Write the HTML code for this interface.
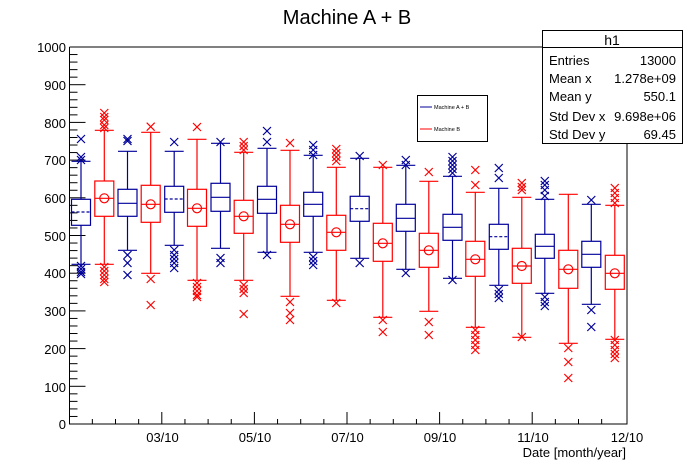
<!DOCTYPE html>
<html><head><meta charset="utf-8"><style>
html,body{margin:0;padding:0;background:#fff;}
svg{display:block;font-family:"Liberation Sans",sans-serif;}
</style></head><body>
<svg id="s" width="696" height="472" viewBox="0 0 696 472" xmlns="http://www.w3.org/2000/svg">
<rect width="696" height="472" fill="#fff"/>
<text x="347" y="24" font-size="20" text-anchor="middle">Machine A + B</text>
<g id="axes" stroke="#000" stroke-width="1" fill="none"></g>
<g id="plot" fill="none" stroke-width="1.2"></g>
<g font-size="13" text-anchor="end" id="ylab">
<text x="66" y="52">1000</text><text x="66" y="90">900</text><text x="66" y="128">800</text><text x="66" y="165">700</text><text x="66" y="203">600</text><text x="66" y="241">500</text><text x="66" y="278">400</text><text x="66" y="316">300</text><text x="66" y="354">200</text><text x="66" y="392">100</text><text x="66" y="429">0</text>
</g>
<g font-size="13" text-anchor="middle">
<text x="162.5" y="442">03/10</text><text x="255" y="442">05/10</text><text x="347.5" y="442">07/10</text><text x="440" y="442">09/10</text><text x="533" y="442">11/10</text><text x="627" y="442">12/10</text>
</g>
<text x="626" y="457" font-size="13" text-anchor="end">Date [month/year]</text>
<rect x="417.5" y="95.5" width="70" height="46" fill="#fff" stroke="#000"/>
<line x1="420" y1="107" x2="432" y2="107" stroke="#00009a"/>
<line x1="420" y1="129" x2="432" y2="129" stroke="#f00"/>
<text x="434" y="109" font-size="5.5">Machine A + B</text>
<text x="434" y="131" font-size="5.5">Machine B</text>
<rect x="542.5" y="30.5" width="140" height="113" fill="#fff" stroke="#000"/>
<line x1="542.5" y1="47.5" x2="682.5" y2="47.5" stroke="#000"/>
<text x="612" y="45" font-size="14" text-anchor="middle">h1</text>
<g font-size="13">
<text x="549" y="65">Entries</text><text x="676" y="65" text-anchor="end">13000</text>
<text x="549" y="83">Mean x</text><text x="676" y="83" text-anchor="end">1.278e+09</text>
<text x="549" y="101">Mean y</text><text x="676" y="101" text-anchor="end">550.1</text>
<text x="549" y="121">Std Dev x</text><text x="676" y="121" text-anchor="end">9.698e+06</text>
<text x="549" y="139">Std Dev y</text><text x="676" y="139" text-anchor="end">69.45</text>
</g>
</svg>
<script>
var NS="http://www.w3.org/2000/svg";
function el(p,t,a){var e=document.createElementNS(NS,t);for(var k in a)e.setAttribute(k,a[k]);p.appendChild(e);return e;}
var ax=document.getElementById("axes"),pl=document.getElementById("plot");
var L=69.5,R=627,T=47,B=424;
el(ax,"path",{d:"M"+L+" "+T+"V"+B+"H"+R+"V143.5M"+L+" "+T+"H542.5"});
for(var i=0;i<=50;i++){var y=B-i*7.54;var len=(i%5==0)?16:8;el(ax,"line",{x1:L,y1:y,x2:L+len,y2:y});}
for(var k=1;k<24;k++){var x=69.2+k*23.15;var len=(k%4==0)?12:5;el(ax,"line",{x1:x,y1:B,x2:x,y2:B-len});}
// cx, red?, wtop, q3, med, q1, wbot, dashed, outliers
var C=[
[81,0,161.3,199.3,212,225.3,264.3,1,[139,157,160,266,269,272,274]],
[104.3,1,130.3,181,198.3,216.3,264.3,0,[113,117,120,125,128,267,271,275,279,282]],
[127.5,0,151.3,189.3,203.3,216.3,250.3,0,[139,141,255,263,275]],
[150.7,1,132.3,185.3,204.3,222.3,273.3,0,[126.7,279,305]],
[174.2,0,151.3,186.3,199,212.3,245.3,1,[142,250,255,259,263,268]],
[197,1,139.3,189.3,208.3,226.3,280.3,0,[127,283,287,291,295,297]],
[220.5,0,143.3,183.3,197.3,211.3,248.3,0,[142,258,263]],
[243.7,1,152.3,200.3,216.3,233.3,280.3,0,[142,146,150,285,289,293,314]],
[267,0,148.3,186.3,199.3,213.3,252.3,0,[131,142,255]],
[290,1,150.3,205.3,224.3,242.3,296.3,0,[143,302,313,320]],
[313.2,0,155.3,192.3,204.3,216.3,252.3,0,[145,150,155,257,261,265]],
[336.3,1,167.3,215.3,232.3,250.3,300.3,0,[149,153,157,161,303]],
[359.7,0,158.3,196.3,208.7,221.3,258.3,1,[156,263]],
[382.8,1,167.3,223.3,243.3,261.3,317.3,0,[165,320,332]],
[405.8,0,165.3,204.3,218.3,231.3,269.3,0,[160,165,273]],
[428.8,1,181.3,233.3,250.3,267.3,311.3,0,[172,322,335]],
[452.5,0,176.3,214.3,227.3,240.3,278.3,0,[157,161,165,169,173,280]],
[475.3,1,192.3,241.3,259.3,276.3,327.3,0,[170,185,330,335,340,345,350]],
[498.8,0,188.3,224.3,236.7,249.3,285.3,1,[168,178,290,294,298]],
[521.8,1,197.3,248.3,266,283.3,337.3,0,[183,187,190,337]],
[544.8,0,199.3,234.3,246.3,258.3,293.3,0,[181,185,190,196,297,302,306]],
[568.3,1,194.3,250.3,269.3,288.3,343.3,0,[348,362,378]],
[591.3,0,204.3,241.3,254.3,267.3,304.3,0,[200,310,327]],
[614.8,1,205.3,255.3,273.3,289.3,339.3,0,[188,193,198,203,340,345,350,354,358]]
];
C.forEach(function(c){
 var col=c[1]?"#ff0000":"#00009a",x=c[0],w=9.5;
 var g=el(pl,"g",{stroke:col});
 el(g,"rect",{x:x-w,y:c[3],width:2*w,height:c[5]-c[3]});
 el(g,"line",{x1:x,y1:c[2],x2:x,y2:c[3]});
 el(g,"line",{x1:x,y1:c[5],x2:x,y2:c[6]});
 el(g,"line",{x1:Math.max(x-w,L),y1:c[2],x2:x+w,y2:c[2]});
 el(g,"line",{x1:Math.max(x-w,L),y1:c[6],x2:x+w,y2:c[6]});
 var m=el(g,"line",{x1:x-w,y1:c[4],x2:x+w,y2:c[4]});
 if(c[7])m.setAttribute("stroke-dasharray","3,2");
 if(c[1])el(g,"circle",{cx:x,cy:c[4],r:4.5});
 c[8].forEach(function(y){el(g,"path",{d:"M"+(x-4)+" "+(y-4)+"l8 8M"+(x+4)+" "+(y-4)+"l-8 8"});});
});
</script>
</body></html>
